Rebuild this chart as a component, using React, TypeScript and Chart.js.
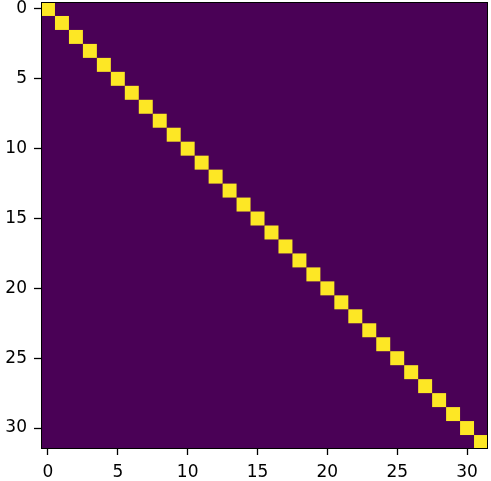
import React, { useEffect, useRef } from "react";
import { Chart, registerables } from "chart.js";
Chart.register(...registerables);

// Matrix is 32x32; bright cells (value 1) listed as row/col pairs, all others 0
const gridSize = 32;
const hotRows = [0,1,2,3,4,5,6,7,8,9,10,11,12,13,14,15,16,17,18,19,20,21,22,23,24,25,26,27,28,29,30,31];
const hotCols = [0,1,2,3,4,5,6,7,8,9,10,11,12,13,14,15,16,17,18,19,20,21,22,23,24,25,26,27,28,29,30,31];
const tickValues = [0, 5, 10, 15, 20, 25, 30];

const LOW = "#4a0156";
const HIGH = "#fde725";

const heatPlugin = {
  id: "heat",
  beforeDatasetsDraw(chart: any) {
    const { ctx, chartArea, scales } = chart;
    const xs = scales.x, ys = scales.y;
    ctx.save();
    ctx.fillStyle = LOW;
    ctx.fillRect(chartArea.left, chartArea.top, chartArea.right - chartArea.left, chartArea.bottom - chartArea.top);
    ctx.fillStyle = HIGH;
    for (let i = 0; i < hotRows.length; i++) {
      const c = hotCols[i], r = hotRows[i];
      const x0 = xs.getPixelForValue(c - 0.5), x1 = xs.getPixelForValue(c + 0.5);
      const y0 = ys.getPixelForValue(r - 0.5), y1 = ys.getPixelForValue(r + 0.5);
      ctx.fillRect(Math.min(x0, x1), Math.min(y0, y1), Math.abs(x1 - x0), Math.abs(y1 - y0));
    }
    ctx.restore();
  },
  afterDraw(chart: any) {
    const { ctx, chartArea } = chart;
    ctx.save();
    ctx.strokeStyle = "#000";
    ctx.lineWidth = 1;
    ctx.strokeRect(chartArea.left + 0.5, chartArea.top + 0.5, chartArea.right - chartArea.left - 1, chartArea.bottom - chartArea.top - 1);
    ctx.restore();
  },
};

export default function App() {
  const ref = useRef<HTMLCanvasElement>(null);
  useEffect(() => {
    document.body.style.margin = "0";
    const font = { family: "DejaVu Sans", size: 17 };
    const chart = new Chart(ref.current!, {
      type: "scatter",
      data: {
        datasets: [
          {
            data: hotRows.map((r, i) => ({ x: hotCols[i], y: r })),
            pointRadius: 0,
            showLine: false,
          },
        ],
      },
      options: {
        responsive: false,
        animation: false,
        layout: { padding: { top: 2, right: 3, left: 0, bottom: 0 } },
        plugins: { legend: { display: false }, tooltip: { enabled: false } },
        scales: {
          x: {
            type: "linear",
            min: -0.5,
            max: gridSize - 0.5,
            afterBuildTicks: (s: any) => { s.ticks = tickValues.map((v) => ({ value: v })); },
            afterFit: (s: any) => { s.height = 32; s.paddingLeft = 0; s.paddingRight = 0; },
            grid: { drawOnChartArea: false, drawTicks: true, tickLength: 6, color: "#000", tickWidth: 1.3 },
            border: { display: false },
            ticks: { color: "#000", font, padding: 7, maxRotation: 0, autoSkip: false },
          },
          y: {
            type: "linear",
            reverse: true,
            min: -0.5,
            max: gridSize - 0.5,
            afterBuildTicks: (s: any) => { s.ticks = tickValues.map((v) => ({ value: v })); },
            afterFit: (s: any) => { s.width = 41; s.paddingTop = 0; s.paddingBottom = 0; },
            grid: { drawOnChartArea: false, drawTicks: true, tickLength: 7, color: "#000", tickWidth: 1.3 },
            border: { display: false },
            ticks: { color: "#000", font, padding: 7, autoSkip: false },
          },
        },
      },
      plugins: [heatPlugin],
    } as any);
    return () => chart.destroy();
  }, []);
  return <canvas ref={ref} width={491} height={481} style={{ display: "block" }} />;
}
